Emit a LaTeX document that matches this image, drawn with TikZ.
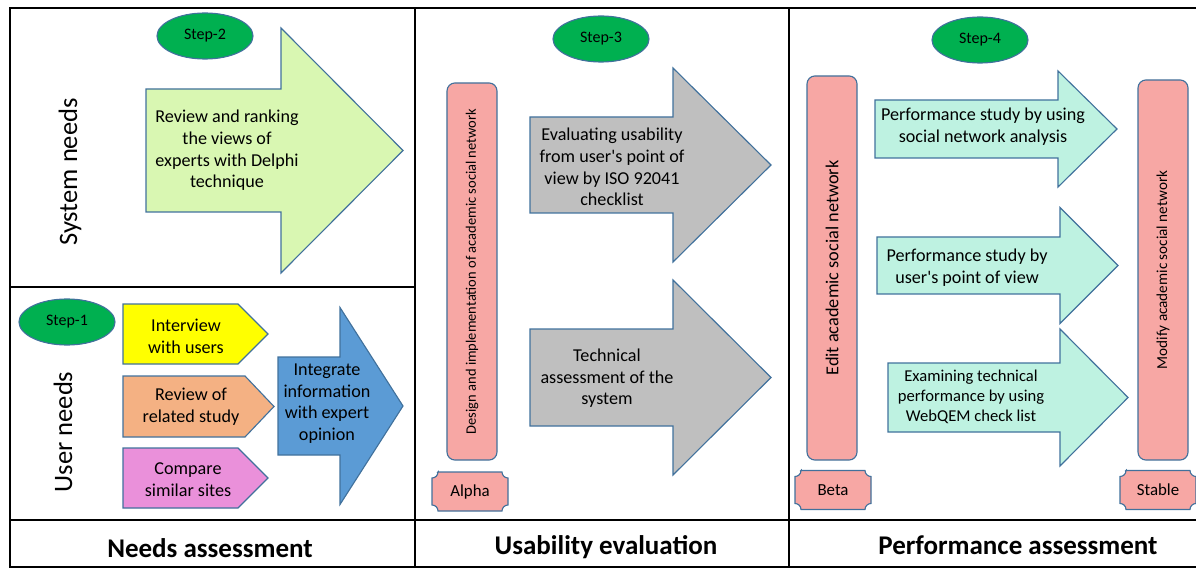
\documentclass[tikz,border=0pt]{standalone}
\usepackage{fontspec}
\setmainfont{Carlito}
\usetikzlibrary{shapes.geometric}
\definecolor{verdeStep}{HTML}{00B050}
\definecolor{bordo}{HTML}{41719C}
\definecolor{verdino}{HTML}{D9F7B2}
\definecolor{giallo}{HTML}{FFFF00}
\definecolor{arancio}{HTML}{F4B183}
\definecolor{viola}{HTML}{EA90DA}
\definecolor{blu}{HTML}{5B9BD5}
\definecolor{grigio}{HTML}{BFBFBF}
\definecolor{rosa}{HTML}{F7A7A4}
\definecolor{acqua}{HTML}{BEF2E1}
% freccia: colore, x coda, y alto, y basso, x testa, mezza testa, x punta
\newcommand{\freccia}[7]{\draw[freccia,fill=#1] (#2,#3) -- (#5,#3) -- (#5,{(#3+#4)/2-#6}) -- (#7,{(#3+#4)/2}) -- (#5,{(#3+#4)/2+#6}) -- (#5,#4) -- (#2,#4) -- cycle;}
% targa: nome, x, y, testo
\newcommand{\targa}[4]{\draw[freccia,fill=rosa] ({#2-32},{#3-19.5}) -- ({#2+32},{#3-19.5}) arc[start angle=180,end angle=270,radius=0.15cm] -- ({#2+38},{#3+13.5}) arc[start angle=90,end angle=180,radius=0.15cm] -- ({#2-32},{#3+19.5}) arc[start angle=0,end angle=90,radius=0.15cm] -- ({#2-38},{#3-13.5}) arc[start angle=270,end angle=360,radius=0.15cm] -- cycle;
\node[etichetta] (#1) at (#2,#3) {#4};}
\newcommand{\apice}{\textquotesingle}

\begin{document}
\begin{tikzpicture}[x=0.025cm,y=-0.025cm,align=center,
cornice/.style={line width=2pt},
ovale/.style={draw=bordo,line width=0.8pt,fill=verdeStep,ellipse,minimum width=2.4cm,minimum height=1.15cm,font=\fontsize{11.4}{13}\selectfont},
freccia/.style={draw=bordo,line width=0.8pt,line join=miter},
testo/.style={font=\fontsize{12.9}{15.4}\selectfont},
testoP/.style={font=\fontsize{11.8}{14.2}\selectfont},
barra/.style={draw=bordo,line width=0.8pt,fill=rosa,rounded corners=0.2cm,rotate=90,minimum height=1.25cm},
titolo/.style={font=\fontsize{19.2}{22}\selectfont\bfseries},
lato/.style={rotate=90,font=\fontsize{18.9}{22}\selectfont},
etichetta/.style={font=\fontsize{12}{14}\selectfont}
]
\useasboundingbox (0,0) rectangle (1196,570);
%-- cornice
\draw[cornice] (1196,8) -- (10,8) -- (10,567) -- (1196,567);
\draw[cornice] (10,520) -- (1196,520);
\draw[cornice] (415,8) -- (415,567);
\draw[cornice] (789,8) -- (789,567);
\draw[cornice] (10,287) -- (415,287);
%-- titoli
\node[titolo] (tNeeds) at (210,548) {Needs assessment};
\node[titolo] (tUsab) at (606,547) {Usability evaluation};
\node[titolo] (tPerf) at (1018,545) {Performance assessment};
\node[lato] (sistema) at (70,172) {System needs};
\node[lato] (utente) at (63,432) {User needs};
%-- step 2
\node[ovale] (s2) at (205,36) {Step-2};
\freccia{verdino}{146}{89}{212}{281}{122.5}{403}
\node[testo] (delphi) at (227,150.5) {Review and ranking\\the views of\\experts with Delphi\\technique};
%-- step 1
\node[ovale] (s1) at (67,322) {Step-1};
\freccia{giallo}{123}{304}{364}{238}{30}{268}
\node[testo] (intervista) at (186,336) {Interview\\with users};
\freccia{arancio}{123}{376}{437}{245}{30.5}{274}
\node[testo] (studio) at (191,407) {Review of\\related study};
\freccia{viola}{123}{448}{508}{238}{30}{268}
\node[testo] (siti) at (188,479.5) {Compare\\similar sites};
\freccia{blu}{278}{357}{455}{340}{98.5}{403}
\node[testo] (integra) at (327,403.5) {Integrate\\information\\with expert\\opinion};
%-- step 3
\node[ovale] (s3) at (601,39) {Step-3};
\node[barra,minimum width=9.425cm,font=\fontsize{10.3}{12}\selectfont] (design) at (472,271.5) {Design and implementation of academic social network};
\targa{alpha}{470}{491.5}{Alpha}
\freccia{grigio}{530}{117}{213}{673}{97}{771}
\node[testo] (iso) at (612,167) {Evaluating usability\\from user\apice s point of\\view by ISO 92041\\checklist};
\freccia{grigio}{530}{329}{426}{673}{97.5}{771}
\node[testo] (tecnica) at (607,378.5) {Technical\\assessment of the\\system};
%-- step 4
\node[ovale] (s4) at (980,40) {Step-4};
\node[barra,minimum width=9.6cm,font=\fontsize{13}{15}\selectfont] (edit) at (832,268) {Edit academic social network};
\targa{beta}{833}{490}{Beta}
\node[barra,minimum width=9.5cm,font=\fontsize{10.8}{12}\selectfont] (modify) at (1163,270) {Modify academic social network};
\targa{stable}{1158}{490}{Stable}
\freccia{acqua}{875}{100}{158}{1058}{58}{1117}
\node[testo] (sna) at (983,126.5) {Performance study by using\\social network analysis};
\freccia{acqua}{877}{237}{294}{1060}{58}{1118}
\node[testo] (vista) at (967,267.5) {Performance study by\\user\apice s point of view};
\freccia{acqua}{888}{363}{432}{1060}{68.5}{1128}
\node[testoP] (webqem) at (971,397) {Examining technical\\performance by using\\WebQEM check list};
\end{tikzpicture}
\end{document}
